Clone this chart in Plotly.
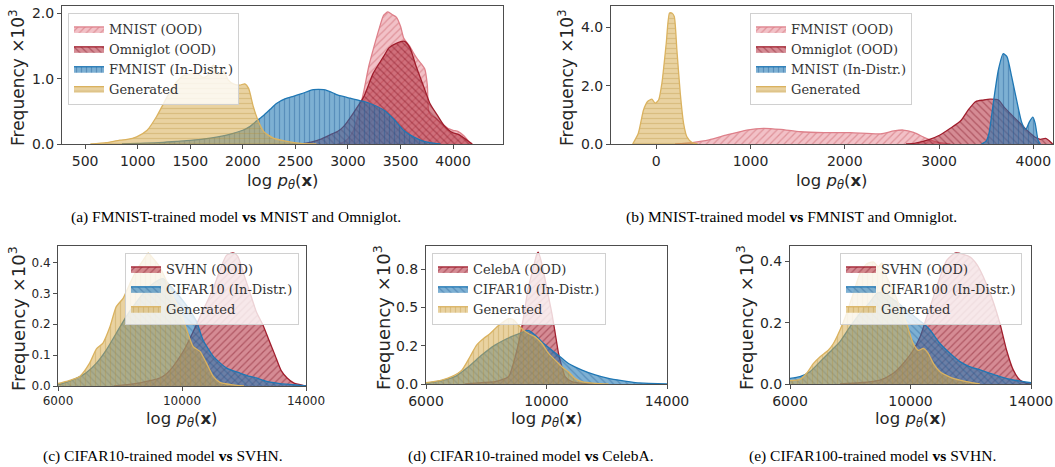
import plotly.graph_objects as go

# ---------------- data (values x, frequency x10^3) ----------------
A_X_MNIST = [2900, 2950, 3000, 3050, 3100, 3150, 3200, 3250, 3300, 3340, 3380, 3420, 3460, 3500, 3530, 3560,
             3590, 3620, 3660, 3700, 3730, 3755, 3768, 3790, 3830, 3880, 3950, 4000, 4050, 4100, 4150, 4185]
A_Y_MNIST = [0, 0.02, 0.08, 0.2, 0.45, 0.8, 1.2, 1.5, 1.78, 1.97, 2.02, 1.98, 1.94, 1.8, 1.62, 1.55,
             1.49, 1.4, 1.3, 1.22, 1.15, 0.9, 0.5, 0.44, 0.4, 0.33, 0.24, 0.21, 0.19, 0.13, 0.04, 0]
A_X_OMNI = [2550, 2650, 2750, 2830, 2900, 2960, 3050, 3150, 3240, 3340, 3390, 3460, 3540, 3590, 3650, 3720,
            3780, 3850, 3910, 3960, 4000, 4060, 4130, 4180]
A_Y_OMNI = [0, 0.03, 0.08, 0.14, 0.19, 0.27, 0.47, 0.72, 1.08, 1.34, 1.47, 1.54, 1.57, 1.47, 1.18, 0.88,
            0.62, 0.44, 0.29, 0.21, 0.17, 0.14, 0.06, 0]
A_X_FM = [850, 1000, 1200, 1370, 1500, 1690, 1800, 1900, 2000, 2070, 2130, 2200, 2260, 2320, 2400, 2480,
          2560, 2670, 2770, 2860, 2900, 3020, 3150, 3240, 3340, 3430, 3530, 3590, 3690, 3780, 3880]
A_Y_FM = [0, 0.01, 0.02, 0.04, 0.055, 0.09, 0.12, 0.16, 0.21, 0.27, 0.35, 0.44, 0.53, 0.62, 0.69, 0.73,
          0.77, 0.83, 0.83, 0.78, 0.75, 0.70, 0.65, 0.60, 0.52, 0.39, 0.21, 0.14, 0.06, 0.02, 0]
A_X_GEN = [550, 700, 830, 900, 990, 1090, 1180, 1280, 1360, 1440, 1500, 1560, 1620, 1660, 1720, 1770,
           1820, 1860, 1910, 1970, 2020, 2055, 2100, 2150, 2200, 2290, 2420, 2550, 2700]
A_Y_GEN = [0, 0.02, 0.06, 0.07, 0.11, 0.21, 0.42, 0.72, 0.93, 1.05, 1.07, 1.08, 1.02, 1.04, 1.21, 1.06,
           1.11, 0.98, 0.92, 0.90, 0.92, 0.85, 0.57, 0.34, 0.19, 0.09, 0.04, 0.01, 0]

B_X_FM = [200, 380, 560, 750, 960, 1140, 1320, 1530, 1780, 2060, 2380, 2520, 2620, 2730, 2840, 2900, 2980, 3120]
B_Y_FM = [0, 0.05, 0.14, 0.31, 0.48, 0.54, 0.50, 0.42, 0.39, 0.39, 0.35, 0.45, 0.48, 0.40, 0.23, 0.15, 0.06, 0]
B_X_OMNI = [2650, 2750, 2900, 3010, 3120, 3230, 3310, 3390, 3470, 3540, 3630, 3700, 3770, 3860, 3950,
            4020, 4075, 4130, 4180, 4205]
B_Y_OMNI = [0, 0.03, 0.16, 0.31, 0.54, 0.80, 1.17, 1.46, 1.51, 1.54, 1.51, 1.23, 1.0, 0.71, 0.42,
            0.23, 0.16, 0.19, 0.08, 0]
B_X_MN = [3450, 3500, 3530, 3580, 3630, 3680, 3720, 3770, 3830, 3880, 3920, 3960, 3995, 4020, 4050, 4075]
B_Y_MN = [0, 0.1, 0.37, 1.51, 2.55, 3.10, 3.0, 2.32, 1.40, 0.71, 0.50, 0.77, 0.92, 0.71, 0.14, 0]
B_X_GEN = [-250, -190, -135, -92, -46, -11, 25, 60, 106, 141, 166, 191, 219, 255, 290, 325, 380, 440]
B_Y_GEN = [0, 0.37, 1.17, 1.46, 1.54, 1.40, 1.51, 2.09, 3.46, 4.50, 4.50, 4.38, 3.23, 1.74, 0.71, 0.25, 0.05, 0]

C_X_SVHN = [7800, 8300, 8640, 9000, 9280, 9500, 9710, 10040, 10360, 10680, 11010, 11220, 11440, 11650,
            11800, 12000, 12200, 12400, 12600, 12800, 13000, 13200, 13400, 13600, 13900, 14000]
C_Y_SVHN = [0, 0.005, 0.01, 0.018, 0.026, 0.04, 0.063, 0.112, 0.176, 0.246, 0.316, 0.375, 0.424, 0.431,
            0.42, 0.36, 0.30, 0.24, 0.20, 0.15, 0.10, 0.05, 0.025, 0.01, 0.002, 0]
C_X_CIF = [6000, 6480, 6900, 7240, 7560, 7880, 8200, 8420, 8750, 9070, 9390, 9600, 9930, 10250, 10470,
           10680, 11010, 11440, 11870, 12190, 12400, 12730, 13160, 13590, 14000]
C_Y_CIF = [0.004, 0.02, 0.042, 0.074, 0.117, 0.171, 0.225, 0.257, 0.30, 0.332, 0.348, 0.327, 0.289, 0.246,
           0.209, 0.149, 0.096, 0.058, 0.042, 0.031, 0.026, 0.015, 0.008, 0.004, 0]
C_X_GEN = [6000, 6270, 6700, 7020, 7240, 7450, 7670, 7880, 8100, 8320, 8530, 8750, 8910, 9070, 9280,
           9500, 9710, 9930, 10150, 10360, 10580, 10790, 11010, 11220, 11650, 12000]
C_Y_GEN = [0.008, 0.015, 0.031, 0.074, 0.12, 0.139, 0.19, 0.257, 0.284, 0.332, 0.375, 0.408, 0.43, 0.413,
           0.386, 0.34, 0.289, 0.246, 0.182, 0.128, 0.112, 0.074, 0.031, 0.012, 0.004, 0]

D_X_CEL = [7300, 7850, 8290, 8740, 8900, 9070, 9180, 9290, 9400, 9570, 9680, 9730, 9845, 9960, 10070,
           10180, 10290, 10400, 10510, 10620, 10840, 11180, 11600]
D_Y_CEL = [0, 0.009, 0.015, 0.048, 0.134, 0.265, 0.373, 0.503, 0.633, 0.764, 0.85, 0.861, 0.785, 0.677,
           0.568, 0.46, 0.33, 0.2, 0.113, 0.048, 0.015, 0.004, 0]
D_X_CIF = [6000, 6520, 6960, 7410, 7850, 8290, 8630, 8960, 9240, 9400, 9620, 9850, 10180, 10450, 10730,
           11180, 11620, 12060, 12500, 12950, 13390, 14000]
D_Y_CIF = [0.004, 0.022, 0.048, 0.113, 0.189, 0.254, 0.291, 0.319, 0.341, 0.351, 0.32, 0.275, 0.221,
           0.178, 0.134, 0.091, 0.059, 0.037, 0.022, 0.009, 0.004, 0]
D_X_GEN = [6000, 6520, 6850, 7190, 7460, 7680, 7910, 8130, 8350, 8570, 8740, 8900, 9070, 9240, 9400,
           9620, 9850, 10070, 10290, 10510, 10730, 10950, 11180, 11620, 12060]
D_Y_GEN = [0.009, 0.026, 0.048, 0.091, 0.178, 0.254, 0.297, 0.33, 0.373, 0.406, 0.427, 0.421, 0.384,
           0.351, 0.33, 0.308, 0.265, 0.2, 0.156, 0.113, 0.08, 0.036, 0.015, 0.004, 0]

E_X_SVHN = [7660, 8320, 8990, 9430, 9760, 10090, 10320, 10540, 10760, 10980, 11200, 11480, 11750, 11980,
            12200, 12420, 12690, 12970, 13190, 13410, 13630, 13860, 14000]
E_Y_SVHN = [0, 0.004, 0.013, 0.035, 0.067, 0.11, 0.154, 0.219, 0.284, 0.349, 0.403, 0.427, 0.423, 0.414,
            0.39, 0.349, 0.284, 0.197, 0.11, 0.046, 0.013, 0.002, 0]
E_X_CIF = [6000, 6330, 6660, 7000, 7330, 7660, 7990, 8320, 8660, 8880, 9100, 9320, 9540, 9870, 10200,
           10430, 10650, 10980, 11310, 11640, 11980, 12310, 12640, 12970, 13410, 13750, 14000]
E_Y_CIF = [0.018, 0.024, 0.04, 0.073, 0.105, 0.138, 0.186, 0.23, 0.268, 0.295, 0.3, 0.284, 0.268, 0.241,
           0.214, 0.197, 0.176, 0.132, 0.1, 0.073, 0.056, 0.046, 0.035, 0.024, 0.013, 0.008, 0.004]
E_X_GEN = [6000, 6330, 6550, 6780, 7000, 7270, 7440, 7660, 7880, 8100, 8320, 8550, 8770, 8930, 9050,
           9210, 9430, 9650, 9870, 10090, 10260, 10430, 10590, 10760, 10980, 11420, 11860, 12300]
E_Y_GEN = [0.011, 0.015, 0.035, 0.067, 0.089, 0.11, 0.132, 0.176, 0.23, 0.295, 0.36, 0.392, 0.398, 0.382,
           0.395, 0.349, 0.306, 0.251, 0.197, 0.132, 0.11, 0.116, 0.1, 0.067, 0.04, 0.018, 0.008, 0]

X_TICKS_A = [500, 1000, 1500, 2000, 2500, 3000, 3500, 4000]
X_TICKS_B = [0, 1000, 2000, 3000, 4000]
X_TICKS_CDE = [6000, 10000, 14000]

CAPTIONS = ["(a) FMNIST-trained model <b>vs</b> MNIST and Omniglot.",
            "(b) MNIST-trained model <b>vs</b> FMNIST and Omniglot.",
            "(c) CIFAR10-trained model <b>vs</b> SVHN.",
            "(d) CIFAR10-trained model <b>vs</b> CelebA.",
            "(e) CIFAR100-trained model <b>vs</b> SVHN."]

W, H = 1055, 467
STY = {
    "pink": dict(line="rgb(222,128,138)", fill="rgba(226,118,130,0.45)", fg="rgba(200,90,100,0.45)", shape="/"),
    "red": dict(line="rgb(160,30,45)", fill="rgba(178,44,60,0.55)", fg="rgba(120,10,25,0.40)", shape="\\"),
    "blue": dict(line="rgb(31,119,180)", fill="rgba(31,119,180,0.58)", fg="rgba(20,80,140,0.35)", shape="|"),
    "tan": dict(line="rgb(218,178,95)", fill="rgba(214,170,75,0.52)", fg="rgba(180,140,50,0.30)", shape="-"),
}


def px_x(p):
    return p / W


def px_y(p):
    return 1 - p / H


PANELS = [
    dict(box=(62, 503, 6, 144), xr=[280, 4475], yr=[0, 2.11], xt=X_TICKS_A,
         yt=[0, 1, 2], ytt=["0.0", "1.0", "2.0"], tf=14, legend=(68, 13), ylx=17),
    dict(box=(611, 1053, 6, 144), xr=[-480, 4209], yr=[0, 4.74], xt=X_TICKS_B,
         yt=[0, 2, 4], ytt=["0.0", "2.0", "4.0"], tf=14, legend=(750, 13), ylx=566),
    dict(box=(58, 306, 246, 386), xr=[6000, 14000], yr=[0, 0.4535], xt=X_TICKS_CDE,
         yt=[0, 0.1, 0.2, 0.3, 0.4], ytt=["0.0", "0.1", "0.2", "0.3", "0.4"], tf=12, legend=(125, 253), ylx=17),
    dict(box=(426, 667, 246, 384), xr=[6000, 14000], yr=[0, 0.902], xt=X_TICKS_CDE,
         yt=[0, 0.25, 0.5, 0.75], ytt=["0.0", "0.2", "0.5", "0.8"], tf=14, legend=(432, 253), ylx=382),
    dict(box=(790, 1031, 246, 384), xr=[6000, 14000], yr=[0, 0.45], xt=X_TICKS_CDE,
         yt=[0, 0.2, 0.4], ytt=["0.0", "0.2", "0.4"], tf=14, legend=(840, 253), ylx=745),
]

SERIES = [
    [("MNIST (OOD)", A_X_MNIST, A_Y_MNIST, "pink"), ("Omniglot (OOD)", A_X_OMNI, A_Y_OMNI, "red"),
     ("FMNIST (In-Distr.)", A_X_FM, A_Y_FM, "blue"), ("Generated", A_X_GEN, A_Y_GEN, "tan")],
    [("FMNIST (OOD)", B_X_FM, B_Y_FM, "pink"), ("Omniglot (OOD)", B_X_OMNI, B_Y_OMNI, "red"),
     ("MNIST (In-Distr.)", B_X_MN, B_Y_MN, "blue"), ("Generated", B_X_GEN, B_Y_GEN, "tan")],
    [("SVHN (OOD)", C_X_SVHN, C_Y_SVHN, "red"), ("CIFAR10 (In-Distr.)", C_X_CIF, C_Y_CIF, "blue"),
     ("Generated", C_X_GEN, C_Y_GEN, "tan")],
    [("CelebA (OOD)", D_X_CEL, D_Y_CEL, "red"), ("CIFAR10 (In-Distr.)", D_X_CIF, D_Y_CIF, "blue"),
     ("Generated", D_X_GEN, D_Y_GEN, "tan")],
    [("SVHN (OOD)", E_X_SVHN, E_Y_SVHN, "red"), ("CIFAR100 (In-Distr.)", E_X_CIF, E_Y_CIF, "blue"),
     ("Generated", E_X_GEN, E_Y_GEN, "tan")],
]

SHAPE_OVERRIDE = {2: {"red": "/", "blue": "\\", "tan": "|"},
                  3: {"red": "/", "blue": "\\", "tan": "|"},
                  4: {"red": "/", "blue": "\\", "tan": "|"}}

fig = go.Figure()
layout = dict(width=W, height=H, margin=dict(l=0, r=0, t=0, b=0, autoexpand=False), paper_bgcolor="white",
              plot_bgcolor="white", font=dict(family="DejaVu Sans", color="#262626"))

annotations = []
for i, (P, ser) in enumerate(zip(PANELS, SERIES)):
    k = "" if i == 0 else str(i + 1)
    l, r, t, b = P["box"]
    axis_common = dict(showline=True, mirror=True, linecolor="#4d4d4d", linewidth=1, showgrid=False,
                       zeroline=False, ticks="outside", ticklen=4, tickcolor="#4d4d4d", automargin=False,
                       tickfont=dict(family="DejaVu Sans", size=P["tf"], color="#262626"))
    layout["xaxis" + k] = dict(domain=[px_x(l), px_x(r)], range=P["xr"], tickvals=P["xt"],
                               ticktext=[str(v) for v in P["xt"]],
                               anchor="y" + k, **axis_common)
    layout["yaxis" + k] = dict(domain=[px_y(b), px_y(t)], range=P["yr"], tickvals=P["yt"],
                               ticktext=P["ytt"], anchor="x" + k, **axis_common)
    lg = "legend" + k
    lx, ly = P["legend"]
    layout[lg] = dict(x=px_x(lx), y=px_y(ly), xanchor="left", yanchor="top",
                      bgcolor="rgba(255,255,255,0.8)", bordercolor="#d0d0d0", borderwidth=1,
                      font=dict(family="DejaVu Serif", size=13, color="#333333"),
                      itemwidth=30, tracegroupgap=0)
    for name, xs, ys, c in ser:
        s = STY[c]
        shape = SHAPE_OVERRIDE.get(i, {}).get(c, s["shape"])
        fig.add_trace(go.Scatter(
            x=xs, y=ys, name=name, mode="lines", xaxis="x" + k, yaxis="y" + k, legend=lg,
            line=dict(color=s["line"], width=1.3, shape="spline", smoothing=0.6),
            fill="tozeroy", fillcolor=s["fill"],
            fillpattern=dict(shape=shape, fgcolor=s["fg"], bgcolor=s["fill"], size=5, solidity=0.25,
                             fillmode="replace"),
        ))
    ylab_fs = {0: 17, 1: 17, 2: 18, 3: 18, 4: 18}[i]
    annotations.append(dict(text="Frequency ×10<sup>3</sup>", x=px_x(P["ylx"]), y=px_y((t + b) / 2 + 3),
                            xref="paper", yref="paper", showarrow=False, textangle=-90,
                            xanchor="center", yanchor="middle",
                            font=dict(family="DejaVu Sans", size=ylab_fs, color="#262626")))
    xlab_y = 181 if i < 2 else 419
    annotations.append(dict(text="log <i>p</i><sub><i>θ</i></sub>(<b>x</b>)", x=px_x((l + r) / 2),
                            y=px_y(xlab_y), xref="paper", yref="paper", showarrow=False,
                            xanchor="center", yanchor="middle",
                            font=dict(family="DejaVu Sans", size=16.5, color="#262626")))

cap_pos = [(236, 217), (791, 217), (163, 456), (531, 456), (872, 456)]
for cap, (cx, cy) in zip(CAPTIONS, cap_pos):
    annotations.append(dict(text=cap, x=px_x(cx), y=px_y(cy), xref="paper", yref="paper",
                            showarrow=False, xanchor="center", yanchor="middle",
                            font=dict(family="Liberation Serif", size=15.5, color="black")))

layout["annotations"] = annotations
layout["showlegend"] = True
fig.update_layout(**layout)

# keep everything drawn inside the 1055x467 page (no overflow that would enlarge the page)
POST = ("var gd=document.getElementById('{plot_id}');"
        "gd.style.overflow='hidden';"
        "document.querySelectorAll('.main-svg').forEach(function(s){s.style.overflow='hidden';});"
        "document.body.style.margin='0';"
        "document.documentElement.style.overflow='hidden';document.body.style.overflow='hidden';")
fig.write_html("out.html", post_script=POST)
